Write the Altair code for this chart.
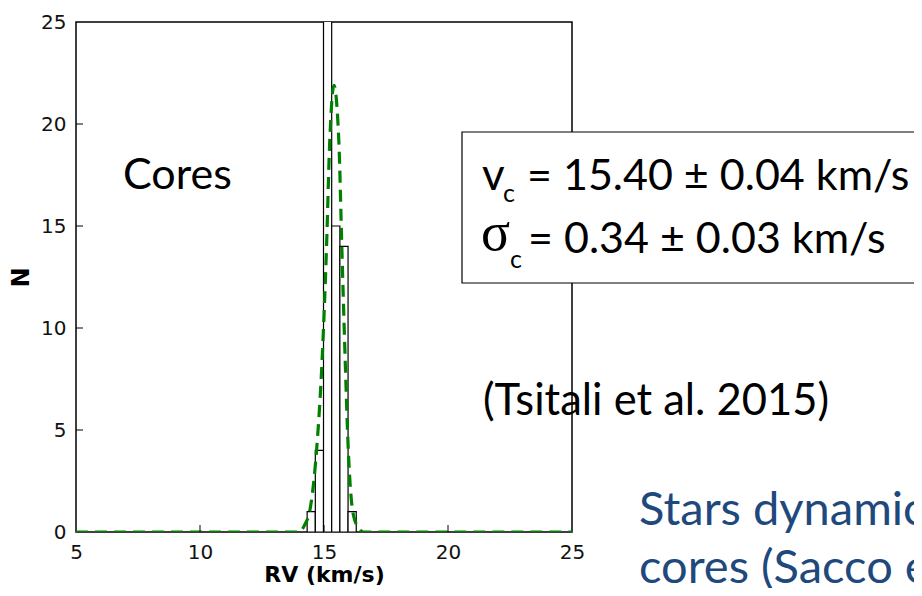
import altair as alt
import pandas as pd

# Histogram
bin_left = [14.32, 14.65, 14.98, 15.31, 15.64, 15.97]
bin_right = [14.65, 14.98, 15.31, 15.64, 15.97, 16.30]
counts = [1, 4, 26, 15, 14, 1]

# Gaussian fit curve
fit_rv = [5.0, 14.0, 14.2, 14.45, 14.7, 14.93, 15.1, 15.23, 15.4, 15.6, 15.72, 15.85, 15.98, 16.16, 16.36, 16.6, 25.0]
fit_n = [0, 0, 0.3, 1.2, 4.0, 8.6, 13.9, 19.1, 21.9, 19.1, 13.9, 8.6, 4.0, 1.0, 0.26, 0, 0]

x_tick_labels = [5, 10, 15, 20, 25]
y_tick_labels = [0, 5, 10, 15, 20, 25]
x_inner_ticks = [10, 15, 20]
y_inner_ticks = [5, 10, 15, 20]

W, H = 496, 510
TICK_FONT = "DejaVu Sans"
SLIDE_FONT = "Lato"

hist_df = pd.DataFrame({"left": bin_left, "right": bin_right, "count": counts})
fit_df = pd.DataFrame({"rv": fit_rv, "n": fit_n})

xs = alt.Scale(domain=[5, 25], nice=False, zero=False)
ys = alt.Scale(domain=[0, 25], nice=False)

bars = alt.Chart(hist_df).mark_rect(
    fill="white", stroke="black", strokeWidth=1.2, clip=True
).encode(
    x=alt.X("left:Q", scale=xs, axis=alt.Axis(
        values=x_tick_labels, ticks=False, tickSize=0, domain=False, grid=False,
        labelFont=TICK_FONT, labelFontSize=20, labelColor="#111111", labelPadding=10,
        labelFlush=False, labelOverlap=False, format="d",
        title="RV (km/s)", titleFont=TICK_FONT, titleFontSize=22, titleFontWeight="bold",
        titleColor="black", titlePadding=2)),
    x2="right:Q",
    y=alt.Y("count:Q", scale=ys, axis=alt.Axis(
        values=y_tick_labels, ticks=False, tickSize=0, domain=False, grid=False,
        labelFont=TICK_FONT, labelFontSize=20, labelColor="#111111", labelPadding=10,
        labelFlush=False, labelOverlap=False, format="d",
        title="N", titleFont=TICK_FONT, titleFontSize=24, titleFontWeight="bold",
        titleColor="black", titlePadding=7)),
    y2=alt.datum(0),
)

fit = alt.Chart(fit_df).mark_line(
    color="#008000", strokeDash=[12, 7], strokeWidth=3.2, clip=True, interpolate="monotone"
).encode(x=alt.X("rv:Q", scale=xs), y=alt.Y("n:Q", scale=ys))

xt = alt.Chart(pd.DataFrame({"v": x_inner_ticks})).mark_rule(color="black", strokeWidth=1).encode(
    x=alt.X("v:Q", scale=xs), y=alt.value(H), y2=alt.value(H - 7))
yt = alt.Chart(pd.DataFrame({"v": y_inner_ticks})).mark_rule(color="black", strokeWidth=1).encode(
    y=alt.Y("v:Q", scale=ys), x=alt.value(0), x2=alt.value(7))


def label(text, x, y, size, font=SLIDE_FONT, color="black"):
    return alt.Chart(pd.DataFrame({"t": [text]})).mark_text(
        font=font, fontSize=size, color=color, align="left", baseline="alphabetic"
    ).encode(text="t:N", x=alt.value(x), y=alt.value(y))


box = alt.Chart(pd.DataFrame({"a": [0]})).mark_rect(
    fill="white", stroke="black", strokeWidth=1.2
).encode(x=alt.value(386), x2=alt.value(900), y=alt.value(110), y2=alt.value(261))

chart = alt.layer(
    bars, fit, xt, yt,
    label("Cores", 47, 167, 43),
    box,
    label("v", 406, 168, 44),
    label("c", 427, 180, 25),
    label("= 15.40 ± 0.04 km/s", 451, 168, 43),
    label("σ", 405, 228, 54, font="Liberation Serif"),
    label("c", 434, 246, 25),
    label("= 0.34 ± 0.03 km/s", 452, 231, 43),
    label("(Tsitali et al. 2015)", 407, 393, 43.5),
    label("Stars dynamics in", 563, 503, 47, color="#1F497D"),
    label("cores (Sacco et al. 2015)", 563, 561, 47, color="#1F497D"),
).properties(
    width=W, height=H,
    autosize=alt.AutoSizeParams(type="none"),
    padding={"left": 68, "top": 14, "right": 342, "bottom": 56},
).configure_view(stroke="black", strokeWidth=1.5)

chart.save("out.html", embed_options={"renderer": "svg", "actions": False})
